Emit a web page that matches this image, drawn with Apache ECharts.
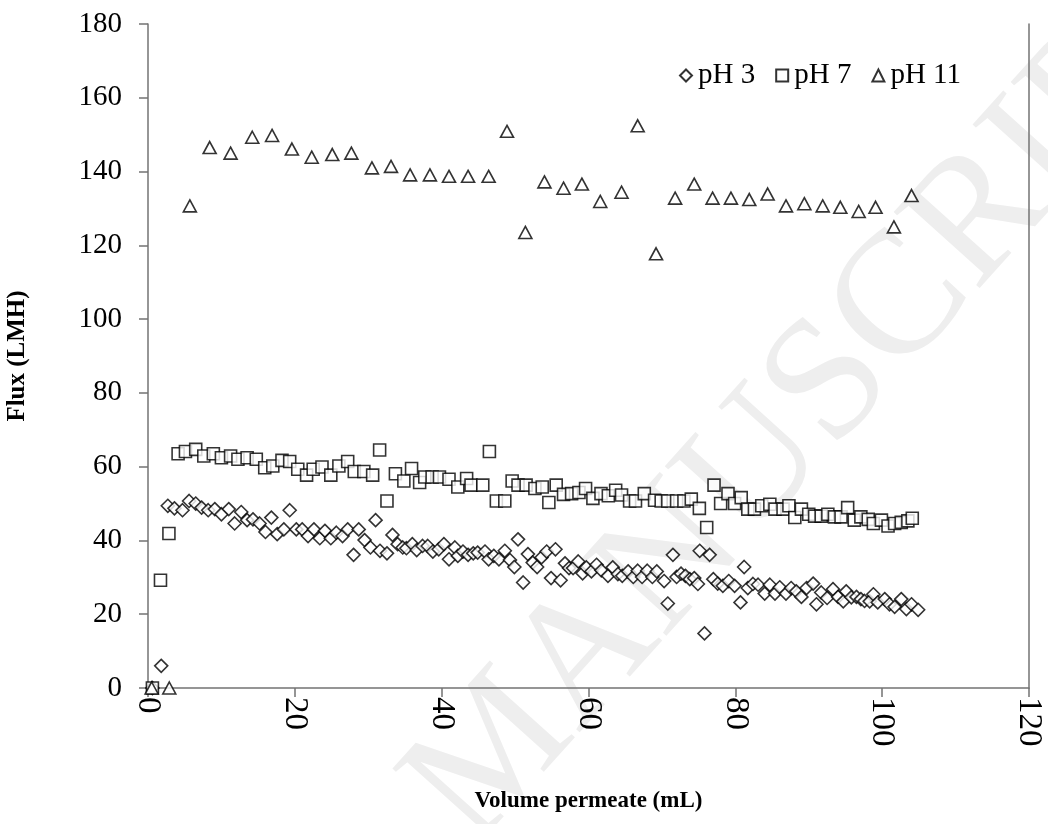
<!DOCTYPE html>
<html>
<head>
<meta charset="utf-8">
<script src="https://cdn.jsdelivr.net/npm/echarts@6/dist/echarts.min.js"></script>
<style>
html,body{margin:0;padding:0;background:#fff;}
#chart{width:1048px;height:824px;}
</style>
</head>
<body>
<div id="chart"></div>
<script>
// Data: [volume permeate (mL), flux (LMH)]
const ph3Data = [
[0.6,0],[1.8,6.0],[2.7,49.4],[3.6,48.7],[4.7,48.2],[5.6,50.7],[6.5,50.0],[7.3,48.9],[8.2,48.2],[9.1,48.5],
[10.0,47.1],[11.0,48.5],[11.8,44.6],[12.7,47.7],[13.5,45.5],[14.3,45.7],[15.2,44.6],[16.0,42.3],[16.8,46.2],[17.6,41.7],
[18.5,43.0],[19.3,48.2],[20.2,43.0],[21.0,43.0],[21.8,41.2],[22.6,43.0],[23.4,40.6],[24.1,42.6],[24.9,40.6],[25.65,42.1],
[26.5,41.2],[27.2,43.0],[28.0,36.1],[28.7,43.0],[29.5,40.1],[30.3,38.1],[31.0,45.5],[31.6,37.2],[32.55,36.5],[33.3,41.5],
[34.0,39.0],[34.7,38.1],[35.2,37.9],[36.0,39.0],[36.6,37.4],[37.4,38.5],[38.1,38.5],[38.8,37.0],[39.6,37.6],[40.3,39.0],
[41.0,34.9],[41.8,38.1],[42.2,35.8],[42.9,37.0],[43.6,36.1],[44.3,36.5],[44.9,36.7],[45.9,37.0],[46.4,34.9],[47.1,35.8],
[47.8,34.9],[48.6,37.2],[49.3,34.7],[49.9,32.8],[50.4,40.3],[51.1,28.6],[51.75,36.3],[52.4,34.0],[53.0,32.8],[53.6,35.4],
[54.3,37.0],[54.9,29.8],[55.5,37.6],[56.2,29.2],[56.8,33.8],[57.35,32.5],[57.9,32.5],[58.6,34.3],[59.2,31.1],[59.7,32.7],
[60.4,31.6],[61.1,33.4],[61.75,31.9],[62.65,30.4],[63.3,32.7],[64.0,30.9],[64.6,30.4],[65.4,31.6],[66.1,30.1],[66.7,31.8],
[67.3,30.1],[68.0,31.8],[68.7,30.1],[69.3,31.6],[70.3,29.0],[70.8,22.9],[71.5,36.1],[72.0,30.1],[72.6,31.0],[73.2,30.4],
[73.8,29.5],[74.4,29.8],[74.9,28.2],[75.15,37.2],[75.8,14.8],[76.5,36.1],[77.0,29.5],[77.6,28.3],[78.3,27.7],[79.1,29.0],
[79.9,27.7],[80.7,23.2],[81.2,32.8],[81.7,27.1],[82.4,28.2],[83.1,28.0],[84.0,25.6],[84.7,28.0],[85.4,25.6],[86.05,27.3],
[86.9,25.6],[87.6,27.1],[88.3,26.2],[89.0,24.7],[89.7,27.1],[90.6,28.3],[91.05,22.7],[91.7,25.9],[92.5,24.4],[93.3,26.8],
[94.0,24.7],[94.7,23.5],[95.1,26.2],[95.8,24.6],[96.5,24.7],[97.1,24.1],[97.6,23.6],[98.3,23.5],[98.8,25.4],[99.4,23.2],
[100.35,24.1],[101.0,22.7],[101.7,22.0],[102.6,24.1],[103.3,21.4],[104.0,22.7],[104.9,21.2]
];
const ph7Data = [
[0.6,0],[1.7,29.2],[2.85,41.9],[4.1,63.5],[5.1,64.1],[6.5,64.7],[7.6,62.9],[8.9,63.5],[10.0,62.4],[11.25,62.9],
[12.25,62.0],[13.5,62.4],[14.75,62.0],[15.9,59.7],[17.0,60.2],[18.25,61.7],[19.3,61.4],[20.4,59.3],[21.6,57.7],[22.5,59.3],
[23.7,59.9],[24.9,57.7],[26.0,60.2],[27.2,61.4],[28.1,58.7],[29.4,58.7],[30.6,57.7],[31.55,64.5],[32.55,50.7],[33.7,58.1],
[34.85,56.1],[35.9,59.5],[37.0,55.7],[37.7,57.2],[38.7,57.2],[39.7,57.2],[41.0,56.6],[42.2,54.5],[43.4,56.8],[44.0,55.0],
[45.6,55.0],[46.5,64.1],[47.45,50.7],[48.6,50.7],[49.6,56.1],[50.4,55.0],[51.5,55.0],[52.7,54.1],[53.7,54.5],[54.6,50.3],
[55.6,55.0],[56.6,52.5],[57.7,52.7],[58.7,53.0],[59.6,54.1],[60.6,51.4],[61.7,52.7],[62.7,52.1],[63.7,53.6],[64.5,52.3],
[65.6,50.7],[66.4,50.7],[67.6,52.7],[69.0,50.9],[69.9,50.7],[70.8,50.7],[72.0,50.7],[73.0,50.7],[74.0,51.2],[75.1,48.7],
[76.1,43.5],[77.1,55.0],[78.0,50.0],[79.0,52.7],[79.9,50.0],[80.8,51.6],[81.7,48.5],[82.6,48.5],[83.6,49.4],[84.7,49.8],
[85.4,48.5],[86.5,48.5],[87.3,49.4],[88.1,46.2],[89.0,48.5],[90.0,47.1],[90.8,46.6],[91.7,46.6],[92.6,47.1],[93.5,46.4],
[94.4,46.4],[95.3,48.9],[96.2,45.5],[97.1,46.4],[98.1,45.7],[98.8,44.6],[99.9,45.5],[100.8,43.9],[101.7,44.6],[102.6,44.9],
[103.5,45.3],[104.1,46.0]
];
const ph11Data = [
[0.5,0],[2.9,0],[5.7,130.7],[8.4,146.5],[11.25,145.0],[14.2,149.3],[16.9,149.8],[19.6,146.1],[22.3,143.9],[25.1,144.6],
[27.7,145.0],[30.5,141.0],[33.1,141.4],[35.7,139.1],[38.4,139.1],[41.0,138.7],[43.6,138.7],[46.4,138.7],[48.9,150.9],[51.4,123.5],
[54.0,137.2],[56.6,135.5],[59.1,136.6],[61.6,131.9],[64.5,134.4],[66.7,152.4],[69.2,117.7],[71.8,132.8],[74.4,136.6],[76.9,132.8],
[79.4,132.8],[81.9,132.4],[84.4,133.9],[86.9,130.7],[89.4,131.3],[91.9,130.7],[94.3,130.3],[96.8,129.2],[99.1,130.3],[101.6,125.0],
[104.0,133.5]
];
const seriesNames = ['pH 3', 'pH 7', 'pH 11'];
const xTicks = {min: 0, max: 120, interval: 20};
const yTicks = {min: 0, max: 180, interval: 20};
const watermark = 'ACCEPTED MANUSCRIPT';

const serif = '"Liberation Serif", "Times New Roman", serif';
const axisColor = '#737373';
const markerStyle = {color: '#ffffff', borderColor: '#000000', borderWidth: 1.6};

const chart = echarts.init(document.getElementById('chart'), null, {renderer: 'canvas'});
chart.setOption({
  animation: false,
  backgroundColor: '#ffffff',
  graphic: [{
    type: 'text',
    x: 1195, y: -20,
    rotation: 48 * Math.PI / 180,
    z: -10,
    silent: true,
    style: {
      text: watermark,
      fontSize: 175,
      fontFamily: serif,
      fill: '#eeeeee',
      align: 'right',
      verticalAlign: 'middle'
    }
  }],
  grid: {left: 148, right: 19, top: 24, bottom: 136, containLabel: false, outerBoundsMode: 'none'},
  legend: {
    data: seriesNames,
    right: 82,
    top: 56,
    itemWidth: 12,
    itemHeight: 12,
    itemGap: 20,
    textStyle: {fontFamily: serif, fontSize: 29, color: '#000', padding: [0, 0, 0, 1]}
  },
  xAxis: {
    type: 'value',
    min: xTicks.min, max: xTicks.max, interval: xTicks.interval,
    name: 'Volume permeate (mL)',
    nameLocation: 'middle',
    nameGap: 102,
    nameTextStyle: {fontFamily: serif, fontSize: 23, fontWeight: 'bold', color: '#000'},
    axisLine: {show: true, lineStyle: {color: axisColor, width: 1.5}},
    axisTick: {show: true, inside: false, length: 9, lineStyle: {color: axisColor, width: 1.5}},
    axisLabel: {rotate: -90, margin: 9, fontFamily: serif, fontSize: 33, color: '#000'},
    splitLine: {show: false}
  },
  yAxis: [{
    type: 'value',
    min: yTicks.min, max: yTicks.max, interval: yTicks.interval,
    name: 'Flux (LMH)',
    nameLocation: 'middle',
    nameGap: 118,
    nameRotate: 90,
    nameTextStyle: {fontFamily: serif, fontSize: 25, fontWeight: 'bold', color: '#000'},
    axisLine: {show: true, lineStyle: {color: axisColor, width: 1.5}},
    axisTick: {show: true, inside: false, length: 9, lineStyle: {color: axisColor, width: 1.5}},
    axisLabel: {margin: 26, fontFamily: serif, fontSize: 29, color: '#000'},
    splitLine: {show: false}
  }, {
    type: 'value',
    position: 'right',
    min: yTicks.min, max: yTicks.max, interval: yTicks.interval,
    axisLine: {show: true, lineStyle: {color: axisColor, width: 1.5}},
    axisTick: {show: false},
    axisLabel: {show: false},
    splitLine: {show: false}
  }],
  series: [{
    name: seriesNames[0], type: 'scatter', data: ph3Data,
    symbol: 'diamond', symbolSize: 13, itemStyle: markerStyle
  }, {
    name: seriesNames[1], type: 'scatter', data: ph7Data,
    symbol: 'rect', symbolSize: 12, itemStyle: markerStyle
  }, {
    name: seriesNames[2], type: 'scatter', data: ph11Data,
    symbol: 'triangle', symbolSize: [13, 12], itemStyle: markerStyle
  }]
});
</script>
</body>
</html>
